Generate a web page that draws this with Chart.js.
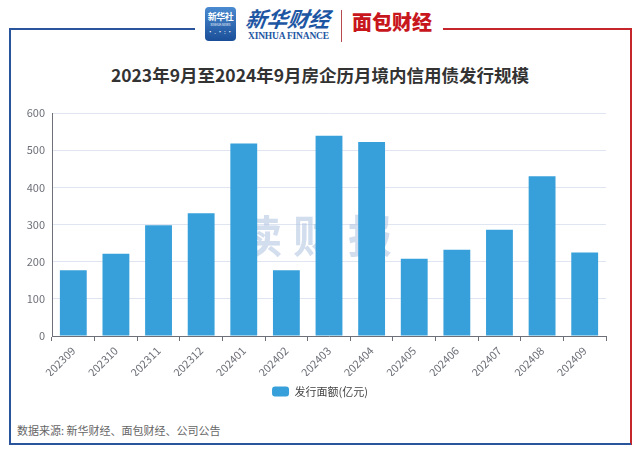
<!DOCTYPE html>
<html>
<head>
<meta charset="utf-8">
<script src="https://cdn.jsdelivr.net/npm/chart.js@4.4.0/dist/chart.umd.min.js"></script>
<style>
  html, body { margin: 0; padding: 0; background: #fff; }
  body { width: 640px; height: 453px; position: relative; overflow: hidden; font-family: "Noto Sans CJK SC", "Noto Sans", sans-serif; }
  .ln { position: absolute; }
  #logoBox { position: absolute; left: 205px; top: 7px; width: 31px; height: 34px; border-radius: 4px;
    background: linear-gradient(#4a8ad0, #1a4f98); color: #fff; text-align: center; }
  #logoBox .a { font-size: 9px; font-weight: bold; line-height: 12px; margin-top: 4px; letter-spacing: -0.5px; }
  #logoBox .b { font-size: 3px; line-height: 4px; }
  #logoBox .c { font-size: 6px; line-height: 10px; letter-spacing: 1px; }
  #xh { position: absolute; left: 246px; top: 3px; font-size: 21px; font-weight: bold; color: #1d56a3;
    font-style: italic; transform: skewX(-8deg); white-space: nowrap; }
  #xhEn { position: absolute; left: 248px; top: 31px; font-family: "Liberation Serif", serif; font-size: 9.5px;
    font-weight: bold; color: #1d56a3; white-space: nowrap; letter-spacing: -0.2px; }
  #sep { position: absolute; left: 341px; top: 10px; width: 1px; height: 32px; background: #b8494d; }
  #mb { position: absolute; left: 352px; top: 7px; font-size: 20px; font-weight: 900; color: #c8161d; white-space: nowrap; }
  #title { position: absolute; left: 0; width: 640px; top: 64px; text-align: center; font-size: 17.5px;
    font-weight: bold; color: #333; line-height: 22px; white-space: nowrap; }
  #foot { position: absolute; left: 17px; top: 422px; font-size: 11px; color: #666; white-space: nowrap; }
  #c { position: absolute; left: 0; top: 0; }
</style>
</head>
<body>
<!-- frame -->
<div class="ln" style="left:9px;top:28px;width:186px;height:2px;background:#2a559c"></div>
<div class="ln" style="left:443px;top:28px;width:189px;height:2px;background:#c4262b"></div>
<div class="ln" style="left:9px;top:28px;width:2px;height:417px;background:#2a559c"></div>
<div class="ln" style="left:630px;top:28px;width:2px;height:417px;background:#c4262b"></div>
<div class="ln" style="left:9px;top:443px;width:622px;height:2px;background:#2a559c"></div>

<!-- logos -->
<div id="logoBox"><div class="a">新华社</div><div class="b">XINHUA NEWS</div><div class="c">·.·:·</div></div>
<div id="xh">新华财经</div>
<div id="xhEn">XINHUA FINANCE</div>
<div id="sep"></div>
<div id="mb">面包财经</div>

<div id="title"></div>
<div id="foot">数据来源: 新华财经、面包财经、公司公告</div>

<canvas id="c" width="640" height="453"></canvas>

<script>
// 数据
const months = ['202309', '202310', '202311', '202312', '202401', '202402', '202403',
                '202404', '202405', '202406', '202407', '202408', '202409'];
const amounts = [177, 221, 298, 330, 518, 177, 539, 522, 208, 232, 286, 430, 225];
const seriesName = '发行面额(亿元)';
const chartTitle = '2023年9月至2024年9月房企历月境内信用债发行规模';

document.getElementById('title').textContent = chartTitle;

Chart.defaults.font.family = '"Noto Sans CJK SC", "Noto Sans", sans-serif';
Chart.defaults.animation = false;

// 水印 "读财报"
const watermark = {
    id: 'watermark',
    beforeDatasetsDraw(chart) {
        const ctx = chart.ctx;
        const a = chart.chartArea;
        const cx = (a.left + a.right) / 2 - 14;
        const cy = (a.top + a.bottom) / 2 + 12;
        ctx.save();
        ctx.font = 'bold 44px "Noto Sans CJK SC", sans-serif';
        ctx.fillStyle = 'rgba(180, 198, 226, 0.6)';
        ctx.textAlign = 'center';
        ctx.textBaseline = 'middle';
        ['读', '财', '报'].forEach((ch, i) => ctx.fillText(ch, cx + (i - 1) * 55, cy));
        ctx.restore();
    }
};

// 图例居中于整张图 (而不是绘图区)
const centerLegend = {
    id: 'centerLegend',
    afterLayout(chart) {
        const lg = chart.legend;
        const shift = (chart.width - (lg.left + lg.right)) / 2;
        lg.left += shift;
        lg.right += shift;
    }
};

const chart = new Chart(document.getElementById('c').getContext('2d'), {
    type: 'bar',
    data: {
        labels: months,
        datasets: [{
            label: seriesName,
            data: amounts,
            backgroundColor: '#37a0da',
            categoryPercentage: 1,
            barPercentage: 0.63
        }]
    },
    options: {
        responsive: false,
        layout: { padding: { left: 0, right: 34, top: 113, bottom: 46 } },
        plugins: {
            legend: {
                position: 'bottom',
                labels: {
                    boxWidth: 17,
                    boxHeight: 10,
                    useBorderRadius: true,
                    borderRadius: 3,
                    color: '#444',
                    font: { size: 11 },
                    padding: 10
                }
            },
            tooltip: { enabled: false }
        },
        scales: {
            x: {
                afterFit: s => { s.height = 40; },
                grid: { offset: true, drawOnChartArea: false, tickLength: 5, color: '#6e7079' },
                border: { color: '#6e7079' },
                ticks: { color: '#6e7079', font: { size: 11 }, minRotation: 45, maxRotation: 45, autoSkip: false }
            },
            y: {
                min: 0,
                max: 600,
                afterFit: s => { s.width = 52; },
                grid: { color: '#e0e6f1', drawTicks: false },
                border: { color: '#6e7079' },
                ticks: { stepSize: 100, color: '#6e7079', font: { size: 11 }, padding: 7 }
            }
        }
    },
    plugins: [watermark, centerLegend]
});
</script>
</body>
</html>
